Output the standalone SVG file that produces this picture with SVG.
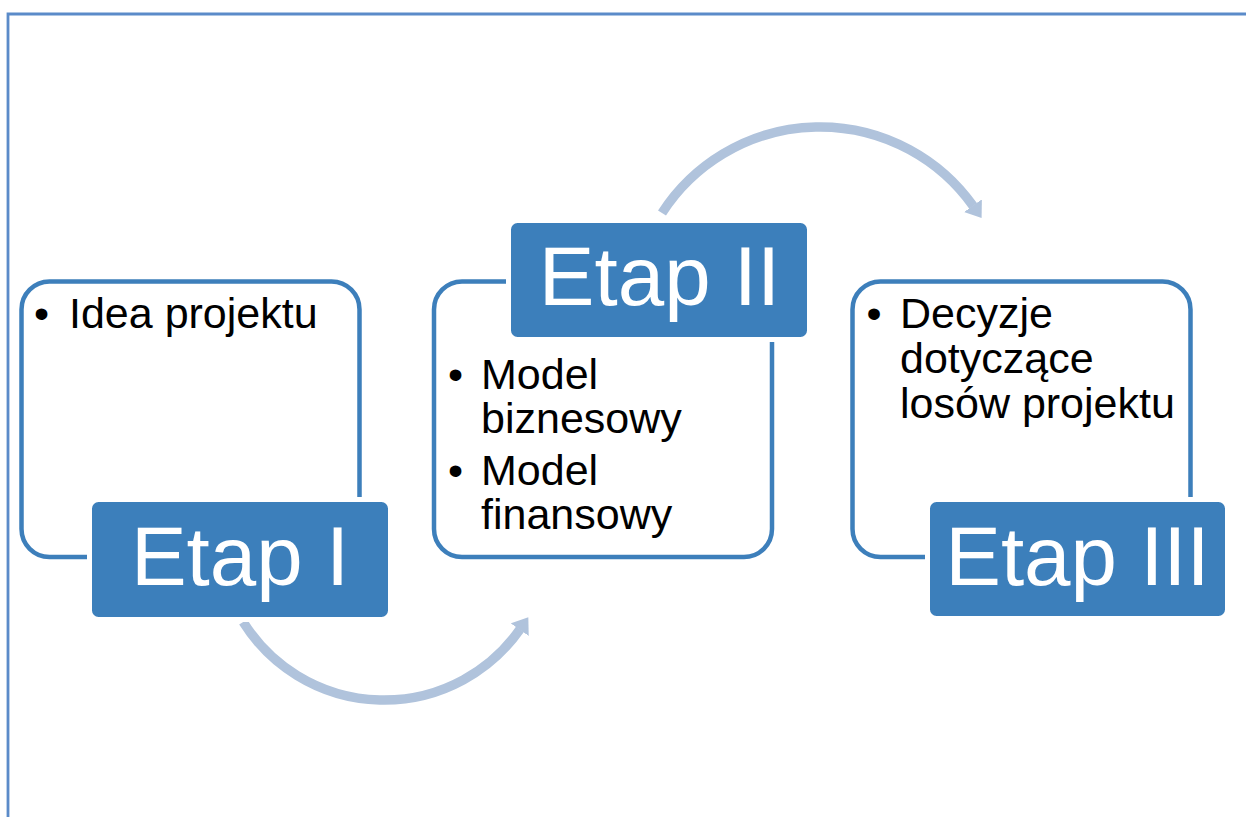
<svg xmlns="http://www.w3.org/2000/svg" width="1246" height="817" viewBox="0 0 1246 817">
  <style>
    .frame { fill: none; stroke: #5b8bc9; stroke-width: 2.8; }
    .outline { fill: #ffffff; stroke: #3d7fbb; stroke-width: 4.5; }
    .stage { fill: #3c7fbb; stroke: #ffffff; stroke-width: 5; }
    .stage-text { font-family: "Liberation Sans", Arial, sans-serif; font-size: 83.5px; fill: #ffffff; text-anchor: middle; }
    .body { font-family: "Liberation Sans", Arial, sans-serif; font-size: 43px; fill: #000000; }
    .arc { fill: none; stroke: #b0c3dc; stroke-width: 9.5; }
  </style>
  <defs>
    <marker id="ah" markerUnits="userSpaceOnUse" viewBox="0 0 15 22" refX="0.5" refY="11" markerWidth="15" markerHeight="22" orient="auto">
      <path d="M0,0 L15,11 L0,22 z" fill="#b0c3dc"/>
    </marker>
  </defs>
  <rect width="1246" height="817" fill="#ffffff"/>
  <path class="frame" d="M8,817 V14 H1246"/>

  <g id="connectors">
    <path class="arc" d="M243.2,622 A166,166 0 0 0 520,629.2" marker-end="url(#ah)"/>
    <path class="arc" d="M662,213 A188,188 0 0 1 973.2,206.1" marker-end="url(#ah)"/>
  </g>

  <g id="node-etap1">
    <rect class="outline" x="21.5" y="281.5" width="338" height="275.5" rx="28"/>
    <text class="body" x="34" y="328">•</text>
    <text class="body" x="69" y="328">Idea projektu</text>
    <rect class="stage" x="89.5" y="499.5" width="301" height="120" rx="9"/>
    <text class="stage-text" x="240" y="585">Etap I</text>
  </g>

  <g id="node-etap2">
    <rect class="outline" x="434" y="281.5" width="338" height="275.5" rx="28"/>
    <text class="body" x="448" y="389">•</text>
    <text class="body" x="481" y="389">Model</text>
    <text class="body" x="481" y="433">biznesowy</text>
    <text class="body" x="448" y="485">•</text>
    <text class="body" x="481" y="485">Model</text>
    <text class="body" x="481" y="529">finansowy</text>
    <rect class="stage" x="508.5" y="220.5" width="301" height="119" rx="9"/>
    <text class="stage-text" x="659.5" y="305">Etap II</text>
  </g>

  <g id="node-etap3">
    <rect class="outline" x="852.5" y="281.5" width="338" height="275.5" rx="28"/>
    <text class="body" x="866.5" y="328">•</text>
    <text class="body" x="900" y="328">Decyzje</text>
    <text class="body" x="900" y="373">dotyczące</text>
    <text class="body" x="900" y="418">losów projektu</text>
    <rect class="stage" x="927.5" y="499.5" width="300" height="119" rx="9"/>
    <text class="stage-text" x="1077.5" y="585">Etap III</text>
  </g>
</svg>
